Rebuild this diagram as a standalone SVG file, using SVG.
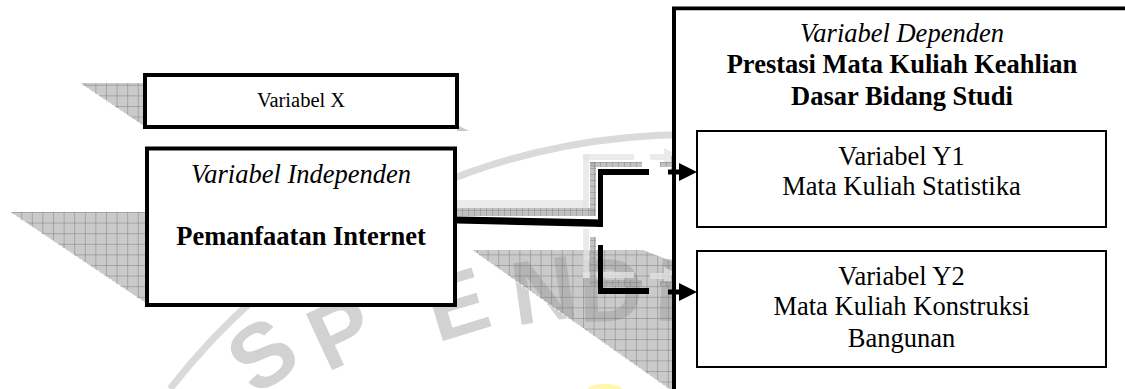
<svg xmlns="http://www.w3.org/2000/svg" width="1125" height="389" viewBox="0 0 1125 389">
<style>
.t{font-family:"Liberation Serif","Times New Roman",serif;fill:#000;text-anchor:middle}
.n{font-size:26.5px}
.b{font-size:26.5px;font-weight:bold}
.i{font-size:26.5px;font-style:italic}
.box{fill:#fff;stroke:#000}
.wm{font-family:"Liberation Sans",Arial,sans-serif;font-size:90px;font-weight:bold;fill:#d2d2d2;text-anchor:middle}
.sh{fill:url(#grid)}
.edge{stroke:#fff;stroke-width:1;stroke-dasharray:3 2;fill:none}
.g1{fill:url(#grid2)}
.g2{fill:#e4e4e4;fill-opacity:0.75}
</style>
<defs>
<pattern id="grid" patternUnits="userSpaceOnUse" width="10.6" height="10.6">
<rect width="10.6" height="10.6" fill="#9a9a9a" fill-opacity="0.52"/>
<path d="M0 0.4H10.6M0.4 0V10.6" stroke="#6a6a6a" stroke-opacity="0.55" stroke-width="0.8"/>
</pattern>
<pattern id="grid2" patternUnits="userSpaceOnUse" width="6" height="6">
<rect width="6" height="6" fill="#a8a8a8" fill-opacity="0.7"/>
<path d="M0 0.4H6M0.4 0V6" stroke="#777" stroke-opacity="0.6" stroke-width="0.7"/>
</pattern>
</defs>
<rect width="1125" height="389" fill="#fff"/>

<g id="watermark">
<path d="M170 389 A657 657 0 0 1 1125 300" fill="none" stroke="#dadada" stroke-width="7"/>
<text class="wm" transform="translate(280,380) rotate(-35)">S</text>
<text class="wm" transform="translate(354,360) rotate(-25)">P</text>
<text class="wm" transform="translate(466,334) rotate(-17)">E</text>
<text class="wm" transform="translate(548,321) rotate(-8)">N</text>
<text class="wm" transform="translate(612,321) rotate(-2)">D</text>
<text class="wm" transform="translate(666,321) rotate(3)">I</text>
<ellipse cx="605" cy="389" rx="17" ry="5" fill="#fff59a" fill-opacity="0.8"/>
</g>

<g id="shadows">
<polygon class="sh" points="80,83 145,83 145,127"/>
<line class="edge" x1="80" y1="83" x2="145" y2="127"/>
<polygon points="457,125 469,131 457,131" fill="#c8c8c8"/>
<polygon class="sh" points="10,212 147,212 147,304"/>
<line class="edge" x1="10" y1="212" x2="147" y2="304"/>
<polygon class="sh" points="472,250 643,250 674,262 674,389 669,389"/>
<line class="edge" x1="472" y1="250" x2="669" y2="389"/>
</g>

<g id="connectors">
<g id="ghost-light">
<rect class="g2" x="442" y="200" width="146" height="8"/>
<rect class="g2" x="583" y="154" width="6" height="54"/>
<rect class="g2" x="583" y="154" width="51" height="6"/>
<rect class="g2" x="650" y="154" width="14" height="6"/>
<polygon class="g2" points="664,148 682,157 664,166"/>
<rect class="g2" x="583" y="229" width="6" height="49"/>
<rect class="g2" x="583" y="272" width="51" height="6"/>
<rect class="g2" x="650" y="273" width="14" height="6"/>
<polygon class="g2" points="664,267 682,276 664,285"/>
</g>
<g id="ghost-dark">
<rect class="g1" x="449" y="208" width="146" height="8"/>
<rect class="g1" x="590" y="162" width="6" height="54"/>
<rect class="g1" x="590" y="162" width="52" height="5"/>
<rect class="g1" x="660" y="162" width="12" height="5"/>
<polygon class="g1" points="671,156 689,164 671,172"/>
<rect class="g1" x="590" y="237" width="6" height="49"/>
<rect class="g1" x="590" y="280" width="52" height="6"/>
<rect class="g1" x="660" y="281" width="12" height="5"/>
<polygon class="g1" points="671,275 689,284 671,293"/>
</g>
<g id="main-connector" fill="#000">
<polygon points="457,216.5 603,219.5 603,227 457,223.5"/>
<rect x="598" y="169" width="5" height="58"/>
<rect x="598" y="169" width="51" height="6"/>
<rect x="668" y="169.5" width="13" height="5"/>
<polygon points="679,163 697,172 679,181"/>
<rect x="598" y="245" width="5" height="49"/>
<rect x="598" y="288" width="51" height="6"/>
<rect x="668" y="289.5" width="13" height="5"/>
<polygon points="679,283 697,292 679,301"/>
</g>
</g>

<g id="node-x">
<rect class="box" x="145" y="75" width="312" height="52" stroke-width="4"/>
<text class="t" x="301" y="107" font-size="20.5">Variabel X</text>
</g>

<g id="node-independen">
<rect class="box" x="147" y="148.5" width="308" height="156.5" stroke-width="4"/>
<text class="t i" x="301" y="183">Variabel Independen</text>
<text class="t b" x="301" y="245">Pemanfaatan Internet</text>
</g>

<g id="node-dependen">
<path d="M674 389 V8.5 H1125" fill="none" stroke="#000" stroke-width="4"/>
<rect x="676" y="10.5" width="449" height="378.5" fill="#fff"/>
<text class="t i" x="902" y="42">Variabel Dependen</text>
<text class="t b" x="902" y="73">Prestasi Mata Kuliah Keahlian</text>
<text class="t b" x="902" y="105">Dasar Bidang Studi</text>
</g>

<g id="node-y1">
<rect class="box" x="697" y="131" width="409" height="96" stroke-width="2"/>
<text class="t n" x="901.5" y="165">Variabel Y1</text>
<text class="t n" x="901.5" y="195">Mata Kuliah Statistika</text>
</g>

<g id="node-y2">
<rect class="box" x="697" y="251" width="409" height="116" stroke-width="2"/>
<text class="t n" x="901.5" y="285">Variabel Y2</text>
<text class="t n" x="901.5" y="315">Mata Kuliah Konstruksi</text>
<text class="t n" x="901.5" y="347">Bangunan</text>
</g>

<g id="arrowheads-over" fill="#000">
<polygon points="679,163 697,172 679,181"/>
<rect x="676" y="169.5" width="5" height="5"/>
<polygon points="679,283 697,292 679,301"/>
<rect x="676" y="289.5" width="5" height="5"/>
</g>
</svg>
